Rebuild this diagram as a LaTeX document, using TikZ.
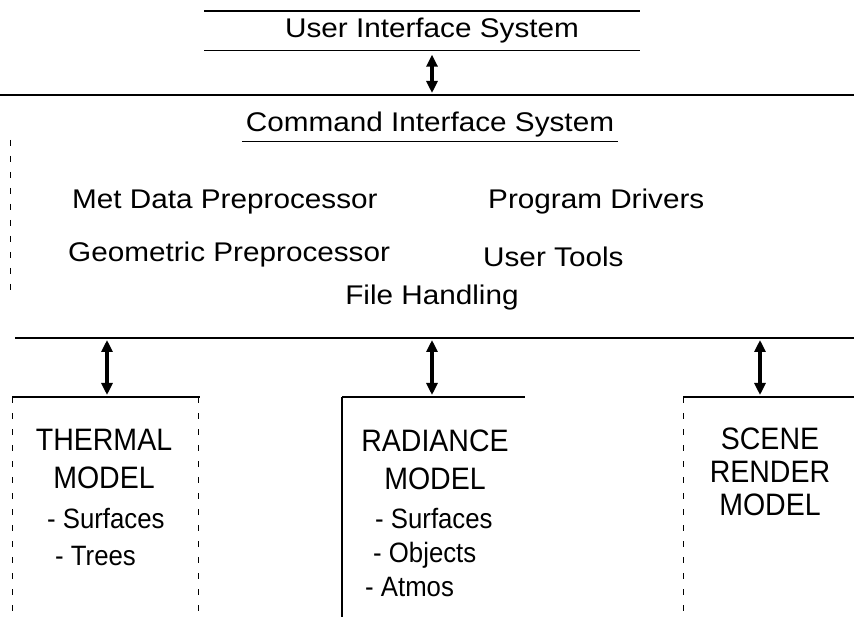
\documentclass[tikz,border=0pt]{standalone}
\usepackage{fontspec}
\setmainfont{Liberation Sans}
\newfontfamily\widefont[FakeStretch=1.1]{Liberation Sans}
\newfontfamily\boxfont[FakeStretch=0.92]{Liberation Sans}
\usetikzlibrary{arrows.meta,positioning}
\tikzset{
  maintext/.style={font=\widefont\fontsize{27}{32}\selectfont, inner sep=0pt},
  modeltext/.style={font=\boxfont\fontsize{31}{38}\selectfont, inner sep=0pt, align=center},
  itemtext/.style={font=\boxfont\fontsize{28}{37}\selectfont, inner sep=0pt, align=left},
  link/.style={{Triangle[length=12pt,width=11pt]}-{Triangle[length=12pt,width=11pt]}, line width=3.2pt},
  rule/.style={line width=1.6pt},
  side/.style={line width=1pt, dash pattern=on 6pt off 10pt},
}
\begin{document}
\begin{tikzpicture}[x=1pt,y=-1pt]
  \useasboundingbox (0,0) rectangle (854,617);
  % user interface box, only top and bottom edges
  \node[maintext, minimum width=435pt, minimum height=39pt] (user) at (432,31) {User Interface System};
  \draw[rule] ([xshift=-10pt]user.north west) -- ([xshift=-10pt]user.north east);
  \draw[rule] ([xshift=-10pt]user.south west) -- ([xshift=-10pt]user.south east);
  % command interface area
  \draw[rule] (0,95) -- (854,95);
  \coordinate (cmdtop) at (432,95);
  \draw[link, shorten <=4pt, shorten >=2pt] (user.south) -- (cmdtop);
  \node[maintext, inner sep=4pt] (cmd) at (430,125) {Command Interface System};
  \draw[line width=1.2pt] (cmd.south west) -- (cmd.south east);
  \node[maintext, anchor=west] (met) at (72,202) {Met Data Preprocessor};
  \node[maintext, anchor=west] (drivers) at (488,202) {Program Drivers};
  \node[maintext, anchor=west] (geo) at (68,255) {Geometric Preprocessor};
  \node[maintext, anchor=west] (tools) at (483,257) {User Tools};
  \node[maintext] (files) at (432,298) {File Handling};
  \draw[side] (10,140) -- (10,290);
  \draw[rule] (15,338) -- (854,338);
  % model boxes
  \coordinate (thermaltop) at (107,397);
  \coordinate (radiancetop) at (432,397);
  \coordinate (scenetop) at (760,397);
  \draw[rule] (12,397) -- (200,397);
  \draw[side] (12,397) -- (12,617);
  \draw[side] (198,397) -- (198,617);
  \draw[rule] (342,397) -- (525,397);
  \draw[line width=1.2pt] (342,397) -- (342,617);
  \draw[rule] (683,397) -- (854,397);
  \draw[side] (683,397) -- (683,617);
  \foreach \m in {thermal,radiance,scene}
    \draw[link, shorten <=2pt, shorten >=2pt] (\m top |- 0,338) -- (\m top);
  \node[modeltext] (thermal) at (104,459) {THERMAL\\MODEL};
  \node[itemtext, anchor=west] (thermalitems) at (47,537) {- Surfaces\\\hspace*{8pt}- Trees};
  \node[modeltext] (radiance) at (435,460) {RADIANCE\\MODEL};
  \node[itemtext, anchor=west, font=\boxfont\fontsize{28}{34}\selectfont] (radianceitems) at (365,553) {\hspace*{10pt}- Surfaces\\\hspace*{8pt}- Objects\\- Atmos};
  \node[modeltext, font=\boxfont\fontsize{31}{33}\selectfont] (scene) at (770,472) {SCENE\\RENDER\\MODEL};
\end{tikzpicture}
\end{document}
